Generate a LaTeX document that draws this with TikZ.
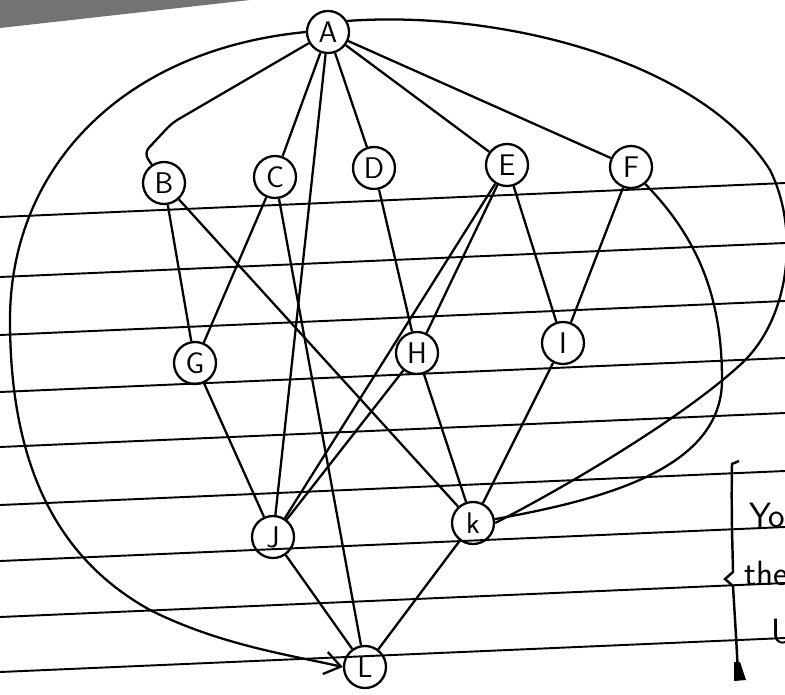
\documentclass[tikz,border=0pt]{standalone}
\usepackage{xcolor}
\usepackage{tikz}
\usetikzlibrary{arrows.meta, positioning}

\tikzset{
  vertex/.style={draw, circle, line width=1.3pt, minimum size=0.84cm, inner sep=0pt, font=\fontsize{17}{17}\sffamily},
  edge/.style={line width=1.3pt},
  rule/.style={line width=1.1pt},
  note/.style={anchor=west, inner sep=0pt, font=\fontsize{20}{20}\sffamily},
}

\begin{document}
\begin{tikzpicture}[x=0.02cm, y=-0.02cm]
\useasboundingbox (0,0) rectangle (785,694);
\clip (0,0) rectangle (785,694);
\fill[black!55] (0,0) -- (250,0) -- (0,28) -- cycle;

\foreach \y in {217,277,335,392,447,505,561,617,672}
    \draw[rule] (0,\y) -- (785,\y-34);

\node[vertex] (A) at (328,32) {A};
\node[vertex] (B) at (164,183) {B};
\node[vertex] (C) at (275,177) {C};
\node[vertex] (D) at (374,168) {D};
\node[vertex] (E) at (507,165) {E};
\node[vertex] (F) at (631,167) {F};
\node[vertex] (G) at (195,363) {G};
\node[vertex] (H) at (417,353) {H};
\node[vertex] (I) at (563,343) {I};
\node[vertex] (J) at (273,537) {J};
\node[vertex] (K) at (473,523) {k};
\node[vertex] (L) at (365,667) {L};

\foreach \s/\t in {A/C,A/D,A/E,A/F,A/J,B/G,B/K,C/G,C/L,D/H,E/J,E/H,E/I,F/I,G/J,H/J,H/K,I/K,J/L,K/L}
    \draw[edge] (\s) -- (\t);

\draw[edge, rounded corners=4pt] (A) -- (172,123) -- (144,153) -- (B);
\draw[edge, -{Straight Barb[length=0.32cm, width=0.45cm]}] (A.west) .. controls (120,50) and (10,170) .. (10,320)
    .. controls (10,470) and (60,560) .. (150,610) .. controls (220,645) and (290,655) .. (L.west);
\draw[edge] (A.30) .. controls (500,10) and (700,60) .. (770,170) .. controls (800,230) and (790,320) .. (740,365)
    .. controls (680,420) and (560,490) .. (K.east);
\draw[edge] (F.-50) .. controls (700,240) and (722,300) .. (722,380) .. controls (722,470) and (600,500) .. (K.10);

\draw[line width=1.4pt] (739,461) -- (732,464) .. controls (731,520) and (733,560) .. (733,572) -- (725,579) -- (733,586)
    .. controls (735,620) and (737,650) .. (738,676);
\fill (734,662) -- (740,662) -- (746,680) -- (734,681) -- cycle;
\node[note] (you) at (749,515) {You};
\node[note] (the) at (744,573) {the};
\node[note] (u) at (771,632) {U};
\end{tikzpicture}
\end{document}
